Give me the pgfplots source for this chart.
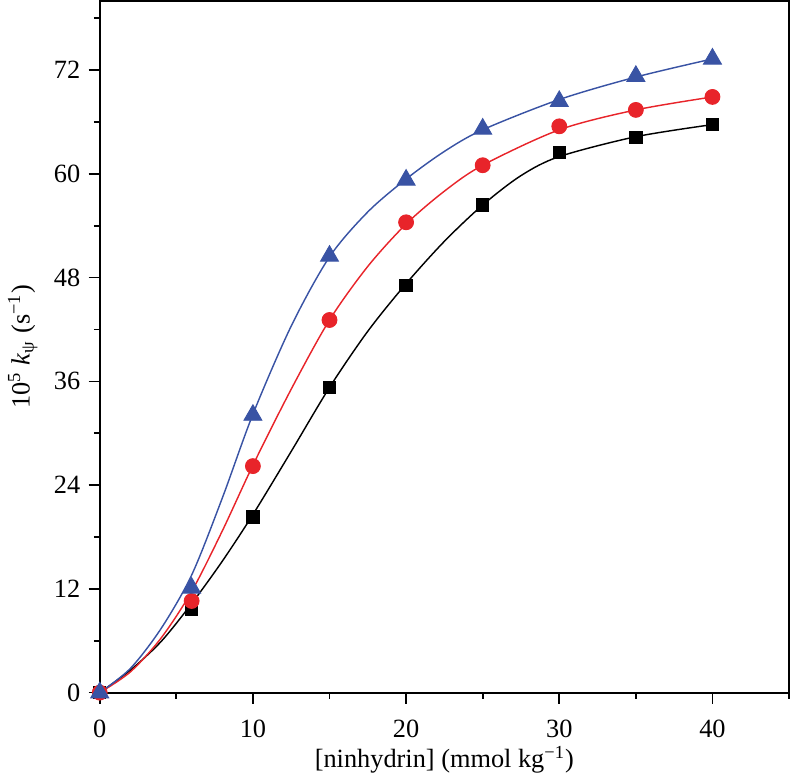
\documentclass[border=0pt]{standalone}
\usepackage{fontspec}
\setmainfont{Liberation Serif}
\usepackage{pgfplots}
\pgfplotsset{compat=1.18}
\definecolor{triblue}{HTML}{3953A4}
\definecolor{circred}{HTML}{E8242A}

\begin{document}
\begin{tikzpicture}
\begin{axis}[
    scale only axis,
    width=288pt, height=289pt,
    xmin=0, xmax=45, ymin=0, ymax=80,
    xtick={0,10,20,30,40}, minor xtick={5,15,25,35,45},
    ytick={0,12,24,36,48,60,72}, minor ytick={6,18,30,42,54,66,78},
    tick pos=left, tick align=outside,
    major tick length=4.6pt, minor tick length=2.5pt,
    axis line style={line width=0.8pt},
    tick style={line width=0.7pt, black},
    /pgf/number format/assume math mode=true,
    tick label style={font=\fontsize{11}{13}\selectfont},
    label style={font=\fontsize{11}{13}\selectfont},
    xlabel={[ninhydrin] (mmol kg\textsuperscript{−1})},
    ylabel={10\textsuperscript{5} \textit{k}\textsubscript{ψ} (s\textsuperscript{−1})},
    xticklabel style={yshift=-3.3pt},
    xlabel style={yshift=3.4pt},
]
% fitted curves
\addplot[black, line width=0.6pt, smooth] coordinates {
    (0,0) (2,2.6) (4,5.9) (6,10.3) (8,15.2) (10,20.6) (12.5,27.9) (15,35.3) (17.5,41.8)
    (20,47.3) (22.5,52.2) (25,56.4) (27.5,59.8) (30,62.0) (35,64.3) (40,65.7)};
\addplot[circred, line width=0.6pt, smooth] coordinates {
    (0,0) (2,2.4) (4,6.3) (6,11.7) (8,18.7) (10,26.3) (12.5,35.1) (15,43.1) (17.5,49.3)
    (20,54.2) (22.5,58.0) (25,61.0) (30,65.1) (35,67.4) (40,68.9)};
\addplot[triblue, line width=0.6pt, smooth] coordinates {
    (0,0) (2,2.8) (4,7.4) (6,13.6) (8,22.5) (10,32.2) (12.5,42.4) (15,50.4) (17.5,55.6)
    (20,59.4) (22.5,62.6) (25,65.1) (30,68.6) (35,71.2) (40,73.3)};
% measured points
\addplot[only marks, mark=square*, mark size=2.6pt, black] coordinates {
    (0,0) (6,9.6) (10,20.3) (15,35.3) (20,47.1) (25,56.4) (30,62.5) (35,64.2) (40,65.7)};
\addplot[only marks, mark=*, mark size=3.1pt, circred,
    mark options={fill=circred, draw=circred}] coordinates {
    (0,0) (6,10.6) (10,26.2) (15,43.1) (20,54.4) (25,61.0) (30,65.5) (35,67.4) (40,68.9)};
\addplot[only marks, mark=triangle*, mark size=4.3pt, triblue,
    mark options={fill=triblue, draw=triblue}] coordinates {
    (0,0) (6,12.1) (10,32.1) (15,50.5) (20,59.3) (25,65.2) (30,68.4) (35,71.3) (40,73.3)};
\end{axis}
\end{tikzpicture}
\end{document}
